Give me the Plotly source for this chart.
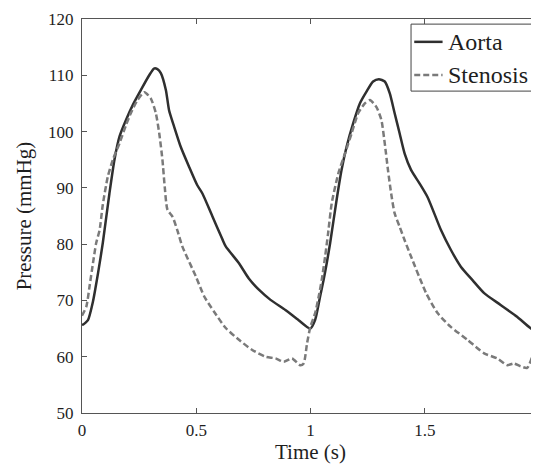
import plotly.graph_objects as go

# Aorta pressure (mmHg) vs time (s)
aorta_t = [0.000, 0.004, 0.026, 0.048, 0.070, 0.091, 0.120, 0.142, 0.164, 0.193, 0.222,
           0.258, 0.294, 0.315, 0.330, 0.345, 0.367, 0.381, 0.403, 0.432, 0.468, 0.504,
           0.527, 0.570, 0.614, 0.629, 0.687, 0.730, 0.774, 0.825, 0.890, 0.948, 0.999,
           1.020, 1.042, 1.057, 1.071, 1.086, 1.114, 1.136, 1.158, 1.187, 1.216, 1.245,
           1.274, 1.299, 1.325, 1.347, 1.368, 1.390, 1.412, 1.440, 1.477, 1.513, 1.571,
           1.614, 1.658, 1.709, 1.760, 1.832, 1.904, 1.962, 2.000]
aorta_p = [65.8, 65.7, 66.5, 69.8, 74.8, 80.2, 89.0, 95.0, 99.1, 102.1, 104.7,
           107.4, 110.0, 111.2, 111.1, 110.4, 107.4, 103.8, 100.9, 97.3, 93.8, 90.5,
           89.0, 85.0, 80.9, 79.6, 76.6, 73.9, 71.9, 70.1, 68.3, 66.5, 65.0,
           66.5, 70.7, 73.6, 76.6, 80.2, 87.8, 93.2, 97.3, 101.5, 105.0, 107.1,
           108.9, 109.3, 108.9, 106.8, 103.3, 99.7, 96.1, 93.2, 90.8, 88.3, 82.5,
           79.0, 76.0, 73.6, 71.3, 69.2, 67.1, 65.1, 64.3]

# Stenosis pressure (mmHg) vs time (s)
sten_t = [0.000, 0.019, 0.033, 0.048, 0.062, 0.077, 0.091, 0.113, 0.135, 0.164, 0.193,
          0.214, 0.243, 0.273, 0.301, 0.323, 0.338, 0.352, 0.362, 0.374, 0.396, 0.417,
          0.439, 0.499, 0.535, 0.578, 0.629, 0.687, 0.745, 0.803, 0.847, 0.883, 0.919,
          0.955, 0.970, 0.985, 1.000, 1.020, 1.035, 1.049, 1.064, 1.077, 1.093, 1.122,
          1.151, 1.180, 1.209, 1.238, 1.260, 1.288, 1.310, 1.325, 1.339, 1.353, 1.368,
          1.390, 1.412, 1.440, 1.506, 1.557, 1.614, 1.687, 1.760, 1.817, 1.861, 1.890,
          1.919, 1.948, 1.970, 1.984, 2.000]
sten_p = [67.3, 68.9, 72.5, 76.6, 80.2, 82.5, 87.0, 92.0, 95.0, 97.9, 101.2,
          103.3, 105.6, 107.0, 105.9, 103.3, 99.7, 95.0, 90.2, 86.1, 84.9, 82.5,
          79.6, 74.2, 70.7, 68.0, 65.1, 63.0, 61.2, 60.0, 59.7, 59.1, 59.7,
          58.5, 58.8, 62.4, 65.4, 67.7, 70.5, 73.6, 77.8, 81.9, 87.3, 92.6,
          96.1, 99.7, 103.3, 105.0, 105.6, 104.4, 102.1, 97.9, 93.2, 89.0, 85.5,
          83.1, 80.7, 77.8, 71.3, 67.7, 65.3, 63.0, 60.6, 59.7, 58.5, 58.8,
          58.3, 58.0, 60.0, 64.2, 67.3]

series_names = ["Aorta", "Stenosis"]
x_ticks = [0, 0.5, 1, 1.5, 2]
x_tick_text = ["0", "0.5", "1", "1.5", "2"]
y_ticks = [50, 60, 70, 80, 90, 100, 110, 120]

SERIF = "Times New Roman"
TXT = "#1e1e1e"
AORTA_COLOR = "#2f2f2f"
STEN_COLOR = "#7a7a7a"
STEN_DASH = "6px,3px"

fig = go.Figure()
fig.add_trace(go.Scatter(x=aorta_t, y=aorta_p, mode="lines", name=series_names[0],
                         line=dict(color=AORTA_COLOR, width=2.5, shape="spline", smoothing=0.6)))
fig.add_trace(go.Scatter(x=sten_t, y=sten_p, mode="lines", name=series_names[1],
                         line=dict(color=STEN_COLOR, width=2.5, dash=STEN_DASH,
                                   shape="spline", smoothing=0.6)))

axis_common = dict(showgrid=False, zeroline=False, showline=True, linecolor="#555555",
                   linewidth=1, mirror="ticks", ticks="inside", ticklen=5,
                   tickcolor="#555555", tickfont=dict(family=SERIF, size=17, color=TXT))

# legend box drawn in paper coordinates
shapes = [
    dict(type="rect", xref="paper", yref="paper", x0=0.720, x1=0.998, y0=0.817, y1=0.987,
         line=dict(color="#444444", width=1), fillcolor="white", layer="above"),
    dict(type="line", xref="paper", yref="paper", x0=0.727, x1=0.789, y0=0.942, y1=0.942,
         line=dict(color=AORTA_COLOR, width=2.5), layer="above"),
    dict(type="line", xref="paper", yref="paper", x0=0.727, x1=0.789, y0=0.858, y1=0.858,
         line=dict(color=STEN_COLOR, width=2.5, dash=STEN_DASH), layer="above"),
]
annotations = [
    dict(xref="paper", yref="paper", x=0.796, y=0.942, text=series_names[0], showarrow=False,
         xanchor="left", yanchor="middle", font=dict(family=SERIF, size=24, color=TXT)),
    dict(xref="paper", yref="paper", x=0.796, y=0.858, text=series_names[1], showarrow=False,
         xanchor="left", yanchor="middle", font=dict(family=SERIF, size=24, color=TXT)),
]

# page body adds an 8px offset, so the figure is 8px smaller and margins shifted
fig.update_layout(
    width=531, height=457,
    margin=dict(l=74, r=0, t=11, b=52),
    paper_bgcolor="white", plot_bgcolor="white",
    xaxis=dict(range=[0, 2], tickvals=x_ticks, ticktext=x_tick_text,
               title=dict(text="Time (s)", font=dict(family=SERIF, size=21, color=TXT),
                          standoff=0),
               ticklabelstandoff=2,
               **axis_common),
    yaxis=dict(range=[50, 120], tickvals=y_ticks,
               title=dict(text="Pressure (mmHg)", font=dict(family=SERIF, size=21, color=TXT),
                          standoff=10),
               ticklabelstandoff=4,
               **axis_common),
    shapes=shapes,
    annotations=annotations,
    showlegend=False,
)

fig.write_html("out.html")
